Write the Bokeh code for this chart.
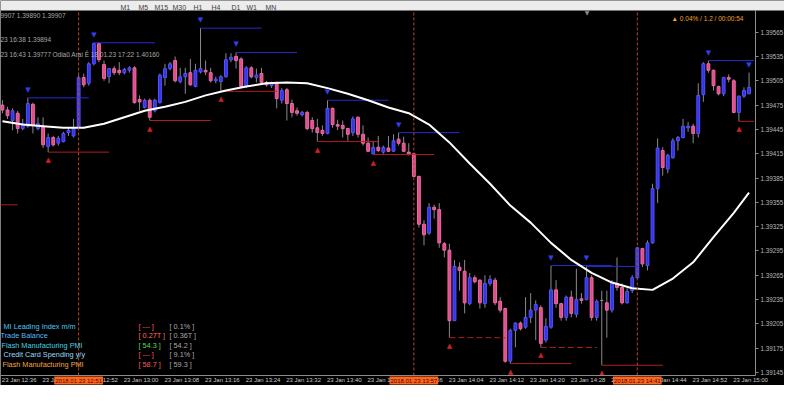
from bokeh.plotting import figure
from bokeh.models import (Range1d, FixedTicker, PrintfTickFormatter, Label,
                          BoxAnnotation, ColumnDataSource)
from bokeh.embed import file_html
from bokeh.resources import INLINE
from bokeh.core.properties import value

# ---------------- data ----------------
OPEN = [
    1.39475, 1.39469, 1.39456, 1.39465, 1.39446, 1.39449, 1.39476, 1.39446, 1.39449, 1.39424,
    1.39435, 1.39428, 1.39430, 1.39441, 1.39437, 1.39447, 1.39509, 1.39502, 1.39526, 1.39551,
    1.39525, 1.39510, 1.39520, 1.39518, 1.39515, 1.39518, 1.39521, 1.39482, 1.39472, 1.39481,
    1.39468, 1.39478, 1.39509, 1.39520, 1.39530, 1.39504, 1.39510, 1.39515, 1.39498, 1.39516,
    1.39518, 1.39515, 1.39505, 1.39504, 1.39510, 1.39531, 1.39535, 1.39532, 1.39498, 1.39521,
    1.39509, 1.39514, 1.39503, 1.39499, 1.39503, 1.39481, 1.39494, 1.39477, 1.39468, 1.39463,
    1.39466, 1.39456, 1.39447, 1.39444, 1.39440, 1.39471, 1.39451, 1.39450, 1.39446, 1.39441,
    1.39460, 1.39439, 1.39428, 1.39415, 1.39423, 1.39417, 1.39422, 1.39418, 1.39433, 1.39428,
    1.39417, 1.39415, 1.39387, 1.39328, 1.39317, 1.39349, 1.39346, 1.39304, 1.39296, 1.39209,
    1.39275, 1.39270, 1.39230, 1.39262, 1.39259, 1.39230, 1.39255, 1.39259, 1.39233, 1.39224,
    1.39159, 1.39197, 1.39206, 1.39201, 1.39213, 1.39222, 1.39225, 1.39185, 1.39201, 1.39247,
    1.39230, 1.39213, 1.39238, 1.39217, 1.39236, 1.39235, 1.39262, 1.39213, 1.39234, 1.39231,
    1.39222, 1.39255, 1.39250, 1.39231, 1.39246, 1.39262, 1.39298, 1.39277, 1.39305, 1.39372,
    1.39419, 1.39396, 1.39410, 1.39431, 1.39435, 1.39447, 1.39449, 1.39440, 1.39488, 1.39526,
    1.39518, 1.39498, 1.39489, 1.39509, 1.39505, 1.39466, 1.39486, 1.39489]
HIGH = [
    1.39481, 1.39473, 1.39471, 1.39468, 1.39458, 1.39484, 1.39478, 1.39460, 1.39460, 1.39440,
    1.39437, 1.39437, 1.39442, 1.39447, 1.39458, 1.39512, 1.39514, 1.39528, 1.39552, 1.39551,
    1.39530, 1.39521, 1.39523, 1.39528, 1.39521, 1.39523, 1.39523, 1.39487, 1.39483, 1.39483,
    1.39483, 1.39514, 1.39526, 1.39528, 1.39535, 1.39521, 1.39521, 1.39532, 1.39526, 1.39570,
    1.39530, 1.39521, 1.39510, 1.39512, 1.39539, 1.39539, 1.39540, 1.39534, 1.39523, 1.39523,
    1.39520, 1.39521, 1.39505, 1.39504, 1.39504, 1.39496, 1.39496, 1.39482, 1.39472, 1.39468,
    1.39468, 1.39460, 1.39458, 1.39450, 1.39481, 1.39472, 1.39457, 1.39456, 1.39447, 1.39461,
    1.39461, 1.39450, 1.39435, 1.39431, 1.39437, 1.39425, 1.39437, 1.39439, 1.39441, 1.39436,
    1.39428, 1.39416, 1.39388, 1.39333, 1.39354, 1.39352, 1.39354, 1.39306, 1.39304, 1.39284,
    1.39281, 1.39284, 1.39268, 1.39265, 1.39260, 1.39265, 1.39265, 1.39262, 1.39238, 1.39225,
    1.39199, 1.39207, 1.39208, 1.39238, 1.39243, 1.39234, 1.39228, 1.39212, 1.39277, 1.39259,
    1.39231, 1.39240, 1.39246, 1.39273, 1.39243, 1.39276, 1.39265, 1.39235, 1.39246, 1.39246,
    1.39259, 1.39287, 1.39255, 1.39249, 1.39265, 1.39300, 1.39299, 1.39308, 1.39378, 1.39434,
    1.39423, 1.39415, 1.39434, 1.39437, 1.39458, 1.39454, 1.39452, 1.39502, 1.39528, 1.39530,
    1.39519, 1.39499, 1.39510, 1.39513, 1.39507, 1.39487, 1.39497, 1.39515]
LOW = [
    1.39465, 1.39458, 1.39444, 1.39440, 1.39444, 1.39447, 1.39440, 1.39444, 1.39422, 1.39417,
    1.39424, 1.39425, 1.39429, 1.39437, 1.39435, 1.39446, 1.39497, 1.39499, 1.39524, 1.39528,
    1.39505, 1.39502, 1.39512, 1.39512, 1.39513, 1.39515, 1.39477, 1.39468, 1.39471, 1.39456,
    1.39466, 1.39477, 1.39499, 1.39518, 1.39503, 1.39502, 1.39489, 1.39499, 1.39497, 1.39514,
    1.39512, 1.39503, 1.39502, 1.39492, 1.39509, 1.39528, 1.39520, 1.39497, 1.39496, 1.39508,
    1.39503, 1.39502, 1.39498, 1.39496, 1.39471, 1.39477, 1.39456, 1.39460, 1.39462, 1.39461,
    1.39444, 1.39441, 1.39430, 1.39437, 1.39439, 1.39447, 1.39444, 1.39435, 1.39431, 1.39437,
    1.39435, 1.39425, 1.39417, 1.39414, 1.39417, 1.39415, 1.39417, 1.39417, 1.39425, 1.39417,
    1.39413, 1.39386, 1.39324, 1.39302, 1.39315, 1.39335, 1.39299, 1.39287, 1.39188, 1.39209,
    1.39246, 1.39218, 1.39228, 1.39255, 1.39224, 1.39225, 1.39252, 1.39228, 1.39219, 1.39157,
    1.39156, 1.39176, 1.39197, 1.39199, 1.39206, 1.39185, 1.39176, 1.39182, 1.39199, 1.39225,
    1.39209, 1.39209, 1.39213, 1.39213, 1.39230, 1.39234, 1.39209, 1.39209, 1.39154, 1.39188,
    1.39219, 1.39246, 1.39229, 1.39230, 1.39243, 1.39261, 1.39275, 1.39271, 1.39304, 1.39354,
    1.39388, 1.39391, 1.39409, 1.39419, 1.39434, 1.39442, 1.39428, 1.39435, 1.39479, 1.39515,
    1.39493, 1.39487, 1.39486, 1.39503, 1.39465, 1.39455, 1.39484, 1.39489]
CLOSE = [
    1.39469, 1.39462, 1.39468, 1.39446, 1.39452, 1.39477, 1.39450, 1.39452, 1.39426, 1.39435,
    1.39426, 1.39434, 1.39440, 1.39444, 1.39446, 1.39509, 1.39500, 1.39526, 1.39551, 1.39531,
    1.39508, 1.39520, 1.39515, 1.39515, 1.39519, 1.39521, 1.39478, 1.39479, 1.39481, 1.39460,
    1.39481, 1.39512, 1.39520, 1.39526, 1.39505, 1.39510, 1.39514, 1.39500, 1.39518, 1.39520,
    1.39516, 1.39505, 1.39507, 1.39510, 1.39531, 1.39534, 1.39530, 1.39498, 1.39521, 1.39510,
    1.39512, 1.39503, 1.39500, 1.39502, 1.39483, 1.39493, 1.39477, 1.39466, 1.39465, 1.39466,
    1.39446, 1.39446, 1.39441, 1.39440, 1.39471, 1.39451, 1.39449, 1.39446, 1.39439, 1.39458,
    1.39439, 1.39428, 1.39418, 1.39423, 1.39419, 1.39423, 1.39418, 1.39431, 1.39428, 1.39418,
    1.39414, 1.39387, 1.39328, 1.39315, 1.39349, 1.39346, 1.39305, 1.39296, 1.39209, 1.39276,
    1.39271, 1.39231, 1.39262, 1.39257, 1.39231, 1.39255, 1.39260, 1.39231, 1.39222, 1.39159,
    1.39197, 1.39206, 1.39199, 1.39213, 1.39222, 1.39229, 1.39181, 1.39202, 1.39247, 1.39230,
    1.39213, 1.39238, 1.39218, 1.39235, 1.39234, 1.39262, 1.39213, 1.39233, 1.39234, 1.39222,
    1.39255, 1.39250, 1.39231, 1.39245, 1.39262, 1.39299, 1.39279, 1.39305, 1.39372, 1.39422,
    1.39398, 1.39413, 1.39431, 1.39435, 1.39449, 1.39449, 1.39440, 1.39487, 1.39526, 1.39518,
    1.39499, 1.39489, 1.39509, 1.39507, 1.39466, 1.39486, 1.39493, 1.39497]
BARS = list(range(len(OPEN)))

# smoothed moving average (white line), sampled at these bars
MA_BARS = [0, 4, 8, 12, 16, 20, 24, 28, 32, 36, 40, 44, 48, 52, 56, 60, 64, 68, 72, 76,
           80, 84, 88, 92, 96, 100, 104, 108, 112, 116, 120, 124, 128, 132, 136, 140, 144, 147]
MA_VALUES = [1.39455, 1.39451, 1.39449, 1.39447, 1.39447, 1.39452, 1.39460, 1.39468, 1.39473, 1.39479,
             1.39487, 1.39493, 1.39498, 1.39502, 1.39503, 1.39502, 1.39496, 1.39489, 1.39481, 1.39472,
             1.39465, 1.39451, 1.39429, 1.39403, 1.39378, 1.39351, 1.39330, 1.39305, 1.39284, 1.39268,
             1.39256, 1.39249, 1.39247, 1.39261, 1.39281, 1.39312, 1.39342, 1.39367]

# fractals (bar index) and where their level lines end
UP_FRACTAL_BARS = [5, 18, 39, 46, 64, 78, 108, 115, 139, 147]
UP_LEVEL_END = [17, 30, 51, 58, 76, 90, 120, 125, 148, None]
DOWN_FRACTAL_BARS = [9, 29, 43, 62, 73, 88, 100, 106, 118, 145]
DOWN_LEVEL_END = [21, 41, 54, 74, 85, 99, 112, 117, 130, 148]
DOWN_LEVEL_DASHED = [False, False, False, False, False, True, False, True, False, False]
OLD_LEVEL = {"start": -9, "end": 3, "price": 1.39352}

PRICE_TICKS = [1.39145, 1.39175, 1.39205, 1.39235, 1.39265, 1.39295, 1.39325, 1.39355,
               1.39385, 1.39415, 1.39445, 1.39475, 1.39505, 1.39535, 1.39565]
TIME_TICKS = [0, 8, 16, 24, 32, 40, 48, 56, 64, 72, 80, 88, 96, 104, 112, 120, 128, 136, 144]
TIME_LABELS = ["23 Jan 12:36", "23 Jan 12:44", "23 Jan 12:52", "23 Jan 13:00", "23 Jan 13:08",
               "23 Jan 13:16", "23 Jan 13:24", "23 Jan 13:32", "23 Jan 13:40", "23 Jan 13:48",
               "23 Jan 13:56", "23 Jan 14:04", "23 Jan 14:12", "23 Jan 14:20", "23 Jan 14:28",
               "23 Jan 14:36", "23 Jan 14:44", "23 Jan 14:52", "23 Jan 15:00"]

EVENT_BARS = [15, 81, 125]
EVENT_LABELS = ["2018.01.23 12:51", "2018.01.23 13:57", "2018.01.23 14:41"]

NEWS_TITLES = ["MI Leading Index m/m", "Trade Balance", "Flash Manufacturing PMI",
               "Credit Card Spending y/y", "Flash Manufacturing PMI"]
NEWS_ACTUAL = ["[ --- ]", "[ 0.27T ]", "[ 54.3 ]", "[ --- ]", "[ 58.7 ]"]
NEWS_FORECAST = ["[ 0.1% ]", "[ 0.36T ]", "[ 54.2 ]", "[ 9.1% ]", "[ 59.3 ]"]

INFO_LINES = ["9907 1.39890 1.39907", "23 16:38 1.39894", "23 16:43 1.39777"]
INFO_EXTRA = "Odiaũ Arai Ê 18.01.23 17:22 1.40160"
STATUS_TEXT = "▲ 0.04% / 1.2 / 00:00:54"
TIMEFRAMES = ["M1", "M5", "M15", "M30", "H1", "H4", "D1", "W1", "MN"]

# ---------------- layout / styles ----------------
FONT = "Liberation Sans"
BLUE_FILL, BLUE_LINE = "#3434e6", "#5252ff"
PINK_FILL, PINK_LINE = "#e04c8c", "#f06aa6"
WICK = "#8a8a8a"
LABEL_SHIFT = 3.3          # MT4 time labels start at the tick
X_START, X_END = -0.383, 153.98
Y_START, Y_END = 1.391290, 1.396041
PRICE_AXIS_AT = 148.28     # bar position of the price scale line
TIME_AXIS_AT = 1.391414    # price level of the time scale line
STRIP_BOTTOM = 1.395918    # bottom of the terminal toolbar strip

p = figure(width=784, height=385, output_backend="svg", toolbar_location=None,
           x_range=Range1d(X_START, X_END), y_range=Range1d(Y_START, Y_END),
           y_axis_location="right", title=None,
           min_border_left=0, min_border_top=0, min_border_right=0, min_border_bottom=0,
           background_fill_color="black", border_fill_color="black")
p.outline_line_color = None
p.xgrid.visible = False
p.ygrid.visible = False

# axes (drawn inside the frame, MT4 style)
ya = p.yaxis[0]
ya.fixed_location = PRICE_AXIS_AT
ya.bounds = (TIME_AXIS_AT, STRIP_BOTTOM)
ya.ticker = FixedTicker(ticks=PRICE_TICKS)
ya.formatter = PrintfTickFormatter(format="%.5f")
ya.axis_line_color = "#8c8c8c"
ya.major_tick_line_color = "#8c8c8c"
ya.major_tick_out = 3
ya.major_tick_in = 0
ya.minor_tick_line_color = None
ya.major_label_standoff = 2
ya.major_label_text_color = "#b8b8b8"
ya.major_label_text_font = FONT
ya.major_label_text_font_size = "6.3px"

xa = p.xaxis[0]
xa.fixed_location = TIME_AXIS_AT
xa.bounds = (X_START, PRICE_AXIS_AT)
xa.ticker = FixedTicker(ticks=[t + LABEL_SHIFT for t in TIME_TICKS])
xa.major_label_overrides = {t + LABEL_SHIFT: lab for t, lab in zip(TIME_TICKS, TIME_LABELS)}
xa.axis_line_color = "#8c8c8c"
xa.major_tick_line_color = None
xa.major_tick_out = 0
xa.major_tick_in = 0
xa.minor_tick_line_color = None
xa.major_label_standoff = 2
xa.major_label_text_color = "#c8c8c8"
xa.major_label_text_font = FONT
xa.major_label_text_font_size = "6px"

# toolbar strip at the very top
p.add_layout(BoxAnnotation(bottom=STRIP_BOTTOM, fill_color="#ececec", fill_alpha=1.0,
                           line_color="#7a7a7a", line_width=1))
for tf, xs in zip(TIMEFRAMES, [120, 138, 154, 172, 193, 211, 231, 246, 265]):
    p.add_layout(Label(x=xs, y=378, x_units="screen", y_units="screen", text=tf,
                       text_baseline="alphabetic", text_font=FONT, text_font_size="7px",
                       text_color="#404040"))

# candles
fills, lines = [], []
for o, c in zip(OPEN, CLOSE):
    if c > o:
        fills.append(BLUE_FILL); lines.append(BLUE_LINE)
    elif c < o:
        fills.append(PINK_FILL); lines.append(PINK_LINE)
    else:
        fills.append(WICK); lines.append(WICK)
src = ColumnDataSource(dict(x=BARS, o=OPEN, h=HIGH, l=LOW, c=CLOSE,
                            top=[max(a, b) for a, b in zip(OPEN, CLOSE)],
                            bot=[min(a, b) for a, b in zip(OPEN, CLOSE)],
                            fill=fills, line=lines))
p.segment(x0="x", y0="l", x1="x", y1="h", source=src, line_color=WICK, line_width=1)
p.vbar(x="x", top="top", bottom="bot", width=0.56, source=src,
       fill_color="fill", line_color="line", line_width=1)

# fractal level lines
up_x0 = [b for b, e in zip(UP_FRACTAL_BARS, UP_LEVEL_END) if e is not None]
up_x1 = [e for e in UP_LEVEL_END if e is not None]
up_y = [HIGH[b] for b in up_x0]
p.segment(x0=up_x0, y0=up_y, x1=up_x1, y1=up_y, line_color="#2a2ad2", line_width=1)

solid = [(b, e) for b, e, d in zip(DOWN_FRACTAL_BARS, DOWN_LEVEL_END, DOWN_LEVEL_DASHED) if not d]
dashed = [(b, e) for b, e, d in zip(DOWN_FRACTAL_BARS, DOWN_LEVEL_END, DOWN_LEVEL_DASHED) if d]
p.segment(x0=[b for b, e in solid], y0=[LOW[b] for b, e in solid],
          x1=[e for b, e in solid], y1=[LOW[b] for b, e in solid],
          line_color="#b01e1e", line_width=1)
p.segment(x0=[b for b, e in dashed], y0=[LOW[b] for b, e in dashed],
          x1=[e for b, e in dashed], y1=[LOW[b] for b, e in dashed],
          line_color="#b01e1e", line_width=1, line_dash="6 3")
p.segment(x0=[OLD_LEVEL["start"]], y0=[OLD_LEVEL["price"]], x1=[OLD_LEVEL["end"]],
          y1=[OLD_LEVEL["price"]], line_color="#b01e1e", line_width=1)

# white moving average
p.line(MA_BARS, MA_VALUES, line_color="white", line_width=2)

# fractal arrows
p.text(x=UP_FRACTAL_BARS, y=[HIGH[b] for b in UP_FRACTAL_BARS], text=["▼"] * len(UP_FRACTAL_BARS),
       text_font=value("DejaVu Sans"), text_font_size="7px", text_color="#3040e8",
       text_align="center", text_baseline="middle", y_offset=-8)
p.text(x=DOWN_FRACTAL_BARS, y=[LOW[b] for b in DOWN_FRACTAL_BARS], text=["▲"] * len(DOWN_FRACTAL_BARS),
       text_font=value("DejaVu Sans"), text_font_size="7px", text_color="#cc2020",
       text_align="center", text_baseline="middle", y_offset=8)

# event lines and their time stamps
p.segment(x0=EVENT_BARS, y0=[TIME_AXIS_AT] * len(EVENT_BARS), x1=EVENT_BARS,
          y1=[STRIP_BOTTOM] * len(EVENT_BARS), line_color="#b8482a", line_dash="3 2",
          line_width=1)
for b, lab in zip(EVENT_BARS, EVENT_LABELS):
    p.add_layout(Label(x=b, y=5, x_units="data", y_units="screen", text=lab,
                       text_align="center", text_baseline="middle",
                       text_font=FONT, text_font_size="6px", text_color="#3a0c00",
                       background_fill_color="#ff641e", background_fill_alpha=1.0,
                       padding=1))

# info texts (top-left)
for txt, ys in zip(INFO_LINES, [370, 346, 331]):
    p.add_layout(Label(x=0, y=ys, x_units="screen", y_units="screen", text=txt,
                       text_baseline="middle", text_font=FONT, text_font_size="6.5px",
                       text_color="#a8a8a8"))
p.add_layout(Label(x=52, y=331, x_units="screen", y_units="screen", text=INFO_EXTRA,
                   text_baseline="middle", text_font=FONT, text_font_size="6.5px",
                   text_color="#a8a8a8"))

# status (top-right)
p.add_layout(Label(x=145.9, y=367, x_units="data", y_units="screen", text=STATUS_TEXT,
                   text_align="right", text_baseline="middle", text_font=FONT,
                   text_font_size="6.5px", text_color="#f0a030"))
p.add_layout(Label(x=115.1, y=373, x_units="data", y_units="screen", text="▼",
                   text_align="center", text_baseline="middle", text_font="DejaVu Sans",
                   text_font_size="6px", text_color="#8a8a8a"))

# news panel (bottom-left)
title_colors = ["#4fc6f0", "#58b8f8", "#4ccfe0", "#9fd8f5", "#f5a442"]
actual_colors = ["#ff5a5a", "#ff6a5a", "#55dd55", "#ff5a5a", "#ff5a6a"]
row_y = [59, 50, 40, 31, 21]
title_x = [3, 0, 1, 3, 2]
for t, a, f, ys, xs, tc, ac in zip(NEWS_TITLES, NEWS_ACTUAL, NEWS_FORECAST, row_y, title_x,
                                   title_colors, actual_colors):
    p.add_layout(Label(x=xs, y=ys, x_units="screen", y_units="screen", text=t,
                       text_baseline="middle", text_font=FONT, text_font_size="7.3px",
                       text_color=tc))
    p.add_layout(Label(x=138, y=ys, x_units="screen", y_units="screen", text=a,
                       text_baseline="middle", text_font=FONT, text_font_size="7.3px",
                       text_color=ac))
    p.add_layout(Label(x=169, y=ys, x_units="screen", y_units="screen", text=f,
                       text_baseline="middle", text_font=FONT, text_font_size="7.3px",
                       text_color="#a8a8a8"))

open("out.html", "w").write(file_html(p, INLINE))
